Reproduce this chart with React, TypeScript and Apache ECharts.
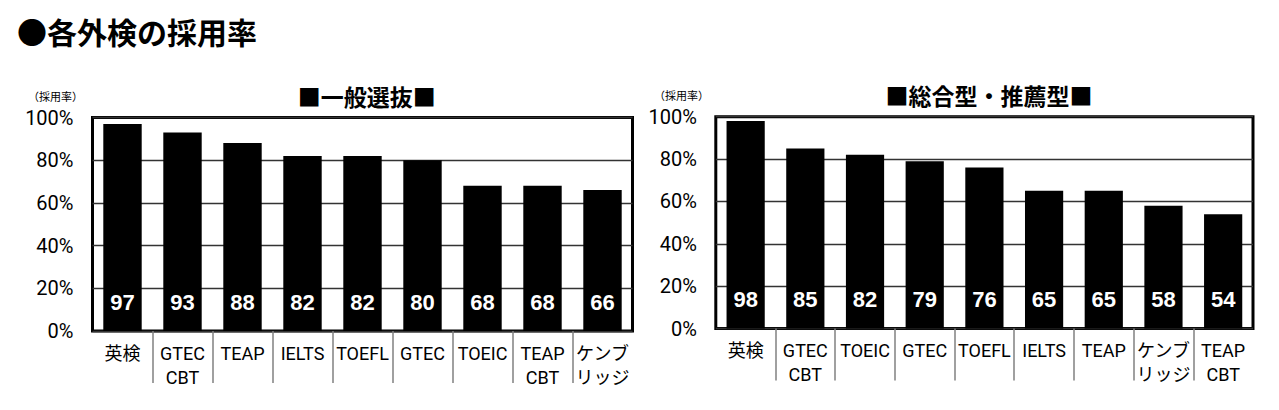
import { useEffect, useRef } from "react";
import * as echarts from "echarts";

const leftCategories = ["英検", "GTEC\nCBT", "TEAP", "IELTS", "TOEFL", "GTEC", "TOEIC", "TEAP\nCBT", "ケンブ\nリッジ"];
const leftValues = [97, 93, 88, 82, 82, 80, 68, 68, 66];
const rightCategories = ["英検", "GTEC\nCBT", "TOEIC", "GTEC", "TOEFL", "IELTS", "TEAP", "ケンブ\nリッジ", "TEAP\nCBT"];
const rightValues = [98, 85, 82, 79, 76, 65, 65, 58, 54];
const yMin = 0;
const yMax = 100;
const yStep = 20;
const mainTitle = "●各外検の採用率";
const leftTitle = "■一般選抜■";
const rightTitle = "■総合型・推薦型■";
const unitLabel = "（採用率）";

const LATIN = "Roboto, 'Noto Sans CJK JP', sans-serif";
const CJK = "'Noto Sans CJK JP', sans-serif";

function buildOption() {
  const grids = [
    { left: 92.5, top: 117.5, width: 540, height: 213.5, show: true, borderColor: "#000", borderWidth: 3, backgroundColor: "transparent" },
    { left: 715.8, top: 116.7, width: 537.2, height: 211.8, show: true, borderColor: "#000", borderWidth: 3, backgroundColor: "transparent" },
    { left: 92.5, top: 331, width: 540, height: 52, show: false },
    { left: 715.8, top: 328.5, width: 537.2, height: 52, show: false },
  ];
  const mainX = (gi: number, data: string[]) => ({
    type: "category",
    gridIndex: gi,
    data,
    axisLine: { show: false },
    axisTick: { show: false },
    axisLabel: { interval: 0, margin: 10, fontSize: 18, lineHeight: 24, fontFamily: LATIN, color: "#000" },
  });
  const sepX = (gi: number, data: string[]) => ({
    type: "category",
    gridIndex: gi,
    data,
    axisLine: { show: false },
    axisTick: { show: false },
    axisLabel: { show: false },
    splitLine: { show: true, interval: 0, showMinLine: false, showMaxLine: false, lineStyle: { color: "#808080", width: 1.5 } },
  });
  const mainY = (gi: number) => ({
    type: "value",
    gridIndex: gi,
    min: yMin,
    max: yMax,
    interval: yStep,
    axisLine: { show: false },
    axisTick: { show: false },
    axisLabel: { formatter: "{value}%", fontSize: 20, margin: 19, fontFamily: LATIN, color: "#000" },
    splitLine: { show: true, lineStyle: { color: "#333", width: 1.3 } },
  });
  const hiddenY = (gi: number) => ({ type: "value", gridIndex: gi, min: 0, max: 1, show: false });
  const barSeries = (idx: number, data: number[]) => ({
    type: "bar",
    xAxisIndex: idx,
    yAxisIndex: idx,
    data,
    barWidth: "64%",
    itemStyle: { color: "#000" },
    label: {
      show: true,
      position: "insideBottom",
      distance: 18,
      color: "#fff",
      fontSize: 22,
      fontWeight: "bold",
      fontFamily: "'Liberation Sans', Arial, sans-serif",
    },
  });
  return {
    animation: false,
    backgroundColor: "#fff",
    grid: grids,
    xAxis: [mainX(0, leftCategories), mainX(1, rightCategories), sepX(2, leftCategories), sepX(3, rightCategories)],
    yAxis: [mainY(0), mainY(1), hiddenY(2), hiddenY(3)],
    series: [barSeries(0, leftValues), barSeries(1, rightValues)],
    graphic: [
      { type: "text", x: 17, y: 31, style: { text: mainTitle, fontSize: 30, fontWeight: "bold", fontFamily: CJK, fill: "#000", align: "left", verticalAlign: "middle" } },
      { type: "text", x: 366.7, y: 96, style: { text: leftTitle, fontSize: 23, fontWeight: "bold", fontFamily: CJK, fill: "#000", align: "center", verticalAlign: "middle" } },
      { type: "text", x: 989, y: 95, style: { text: rightTitle, fontSize: 23, fontWeight: "bold", fontFamily: CJK, fill: "#000", align: "center", verticalAlign: "middle" } },
      { type: "text", x: 28, y: 96, style: { text: unitLabel, fontSize: 11, fontFamily: CJK, fill: "#000", align: "left", verticalAlign: "middle" } },
      { type: "text", x: 654, y: 95, style: { text: unitLabel, fontSize: 11, fontFamily: CJK, fill: "#000", align: "left", verticalAlign: "middle" } },
    ],
  };
}

export default function App() {
  const ref = useRef<HTMLDivElement>(null);
  useEffect(() => {
    document.body.style.margin = "0";
    if (!ref.current) return;
    const chart = echarts.init(ref.current, undefined, { renderer: "svg" });
    chart.setOption(buildOption() as any);
    return () => chart.dispose();
  }, []);
  return <div ref={ref} style={{ width: 1279, height: 410 }} />;
}
